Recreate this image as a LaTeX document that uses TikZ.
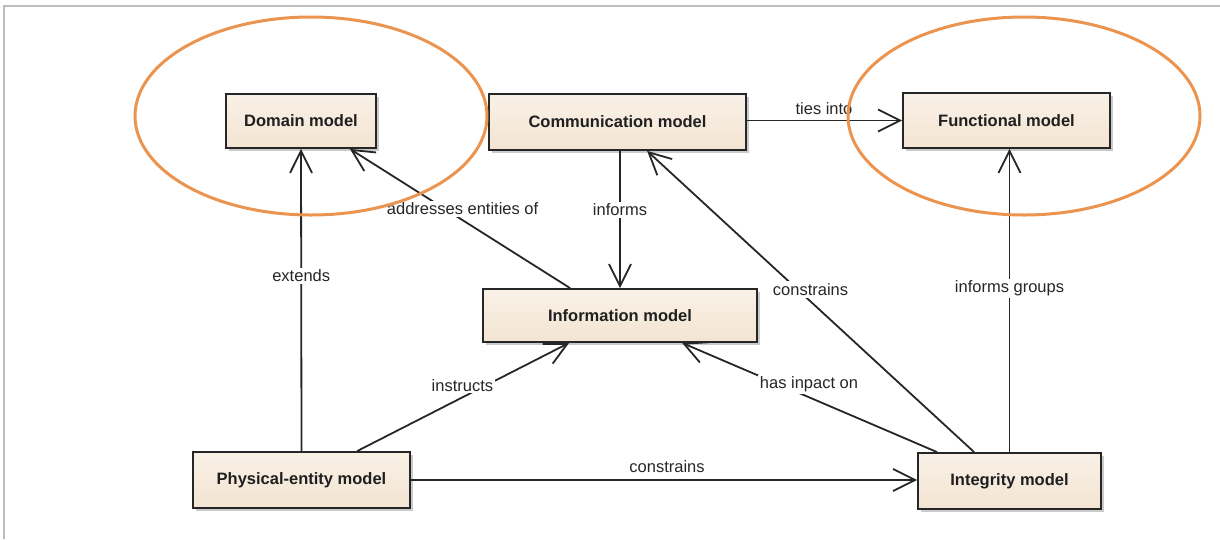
\documentclass[tikz,border=0pt]{standalone}
\usepackage{fontspec}
\setmainfont{Liberation Sans}
\usetikzlibrary{arrows.meta,shadows,calc}
\definecolor{boxtop}{HTML}{F9F1E7}
\definecolor{boxbot}{HTML}{F3E4D2}
\definecolor{edge}{HTML}{262626}
\definecolor{ring}{HTML}{EB9450}
\definecolor{frame}{HTML}{BDBDBD}
\begin{document}
\begin{tikzpicture}[x=1pt,y=-1pt,
  model/.style={draw=edge, line width=1.8pt, top color=boxtop, bottom color=boxbot,
    inner sep=0pt, font=\fontsize{16.5}{19}\selectfont\bfseries, text=black!88,
    drop shadow={shadow xshift=3pt, shadow yshift=-3pt, opacity=0.35, fill=black!60}},
  rel/.style={draw=edge, line width=1.8pt, -{Straight Barb[length=22pt,width=22pt]}},
  lbl/.style={fill=white, inner sep=2pt, font=\fontsize{16.5}{19}\selectfont, text=black!85},
  highlight/.style={draw=ring, line width=3pt}]
\useasboundingbox (0,0) rectangle (1220,539);
% frame
\draw[frame, line width=1.5pt] (4,539) -- (4,6) -- (1220,6);

% boxes
\node[model, minimum width=150, minimum height=54] (dom) at (301,121) {Domain model};
\node[model, minimum width=257, minimum height=56] (comm) at (617.5,122) {Communication model};
\node[model, minimum width=207, minimum height=55] (func) at (1006.5,120.5) {Functional model};
\node[model, minimum width=274, minimum height=53] (info) at (620,315.5) {Information model};
\node[model, minimum width=217, minimum height=56] (phys) at (301.5,480) {Physical-entity model};
\node[model, minimum width=183, minimum height=56] (integ) at (1009.5,481) {Integrity model};

% connectors
\draw[rel] (phys.north) -- node[lbl, pos=0.58] {extends} (dom.south);
\draw[rel] ($(info.north west)+(88,0)$) -- node[lbl, pos=0.57, xshift=18] {addresses entities of} ($(dom.south east)+(-27,0)$);
\draw[rel] (comm.south -| info.north) -- node[lbl, pos=0.43] {informs} (info.north);
\draw[rel] ($(integ.north west)+(57,0)$) -- node[lbl, pos=0.54, xshift=13] {constrains} ($(comm.south west)+(159,0)$);
\draw[rel] (comm.east |- func.west) -- (func.west);
\node[lbl, fill=none] (tiesl) at (824,109) {ties into};
\draw[rel] (integ.north) -- node[lbl, pos=0.54] {informs groups} (integ.north |- func.south);
\draw[rel] ($(phys.north west)+(165,0)$) -- node[lbl, pos=0.61, xshift=-24] {instructs} ($(info.south west)+(87,0)$);
\draw[rel] ($(integ.north west)+(20,0)$) -- node[lbl, pos=0.62, xshift=30] {has inpact on} ($(info.south west)+(200,0)$);
\draw[rel] (phys.east) -- (phys.east -| integ.west);
\node[lbl, fill=none] (conl) at (667,467) {constrains};

% highlight ellipses
\draw[highlight] (311,116) ellipse [x radius=176, y radius=99];
\draw[highlight] (1024,116) ellipse [x radius=176, y radius=99];
\end{tikzpicture}
\end{document}
